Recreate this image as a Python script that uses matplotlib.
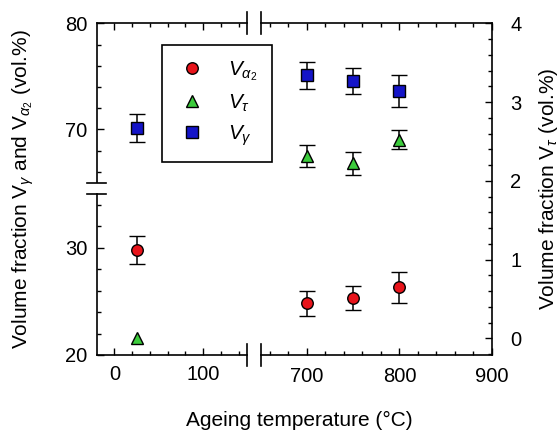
import matplotlib
matplotlib.use("Agg")
import matplotlib.pyplot as plt
from matplotlib.lines import Line2D
from matplotlib.ticker import MultipleLocator, FixedLocator

# ---- data ----
temps = [25, 700, 750, 800]
v_alpha2 = [29.8, 24.8, 25.3, 26.3]
v_alpha2_err = [1.3, 1.2, 1.1, 1.45]
v_gamma = [70.15, 75.1, 74.55, 73.65]
v_gamma_err = [1.3, 1.3, 1.2, 1.5]
v_tau = [0.0, 2.32, 2.22, 2.52]
v_tau_err = [0.0, 0.14, 0.15, 0.12]

xlim_left = (-19.5, 149.5)
xlim_right = (650, 900)
ylim_low = (20, 35)
ylim_up = (65, 80)
ylim_tau = (-0.212, 4.0)
xticks_left = [0, 100]
xticks_right = [700, 800, 900]
yticks_low = [20, 30]
yticks_up = [70, 80]
yticks_tau = [0, 1, 2, 3, 4]

plt.rcParams['font.family'] = ['Liberation Sans', 'DejaVu Sans']
plt.rcParams['mathtext.fontset'] = 'custom'
plt.rcParams['mathtext.rm'] = 'Liberation Sans'
plt.rcParams['mathtext.it'] = 'Liberation Sans:italic'
plt.rcParams['mathtext.bf'] = 'Liberation Sans:bold'

W, H = 558, 432
fig = plt.figure(figsize=(W / 100, H / 100), dpi=100)

def rect(x0, y0, x1, y1):
    return [x0 / W, 1 - y1 / H, (x1 - x0) / W, (y1 - y0) / H]

XL0, XL1, XR0, XR1 = 97, 247.3, 260.7, 492
YT, YB1, YT2, YB = 23.3, 182.5, 194, 355

ax_ul = fig.add_axes(rect(XL0, YT, XL1, YB1))
ax_ll = fig.add_axes(rect(XL0, YT2, XL1, YB))
ax_ur = fig.add_axes(rect(XR0, YT, XR1, YB1))
ax_lr = fig.add_axes(rect(XR0, YT2, XR1, YB))
ax_tl = fig.add_axes(rect(XL0, YT, XL1, YB))
ax_tr = fig.add_axes(rect(XR0, YT, XR1, YB))

LW = 1.2
red, green, blue = '#e8141b', '#3ccc3c', '#1414c8'
ms = 8.3
mew = 1.0
tickfs = 14.5

for ax in (ax_ul, ax_ll, ax_ur, ax_lr, ax_tl, ax_tr):
    for s in ax.spines.values():
        s.set_visible(False)
        s.set_linewidth(LW)
    ax.patch.set_alpha(0)
    ax.tick_params(which='both', direction='in', width=1.0,
                   labelsize=tickfs, left=False, right=False, top=False,
                   bottom=False, labelleft=False, labelbottom=False)
    ax.tick_params(which='major', length=5)
    ax.tick_params(which='minor', length=3)

for ax in (ax_ul, ax_ll, ax_tl):
    ax.set_xlim(*xlim_left)
for ax in (ax_ur, ax_lr, ax_tr):
    ax.set_xlim(*xlim_right)
for ax in (ax_ul, ax_ur):
    ax.set_ylim(*ylim_up)
for ax in (ax_ll, ax_lr):
    ax.set_ylim(*ylim_low)
for ax in (ax_tl, ax_tr):
    ax.set_ylim(*ylim_tau)

# x ticks
for ax, ticks in ((ax_ul, xticks_left), (ax_ll, xticks_left),
                  (ax_ur, xticks_right), (ax_lr, xticks_right)):
    ax.xaxis.set_major_locator(FixedLocator(ticks))
    ax.xaxis.set_minor_locator(MultipleLocator(20))
for ax in (ax_ul, ax_ur):
    ax.spines['top'].set_visible(True)
    ax.tick_params(which='both', top=True)
for ax in (ax_ll, ax_lr):
    ax.spines['bottom'].set_visible(True)
    ax.tick_params(which='both', bottom=True, labelbottom=True, pad=9)

# left y ticks
ax_ul.yaxis.set_major_locator(FixedLocator(yticks_up))
ax_ll.yaxis.set_major_locator(FixedLocator(yticks_low))
for ax in (ax_ul, ax_ll):
    ax.yaxis.set_minor_locator(MultipleLocator(2))
    ax.spines['left'].set_visible(True)
    ax.tick_params(which='both', left=True, labelleft=True, pad=7)
for ax in (ax_ur, ax_lr, ax_tl):
    ax.set_yticks([])

# right tau axis
ax_tr.spines['right'].set_visible(True)
ax_tr.yaxis.set_major_locator(FixedLocator(yticks_tau))
ax_tr.yaxis.set_minor_locator(MultipleLocator(0.2))
ax_tr.yaxis.set_ticks_position('right')
ax_tr.tick_params(which='both', right=True, labelright=True, pad=13)
ax_tl.set_xticks([])
ax_tr.set_xticks([])

ekw = dict(ecolor='black', elinewidth=1.1, capsize=6, capthick=1.1,
           markeredgecolor='black', markeredgewidth=mew, ms=ms, ls='none',
           clip_on=False, zorder=5)

# left column (25 C) points
ax_ll.errorbar(temps[:1], v_alpha2[:1], yerr=v_alpha2_err[:1], fmt='o',
               markerfacecolor=red, **ekw)
ax_ul.errorbar(temps[:1], v_gamma[:1], yerr=v_gamma_err[:1], fmt='s',
               markerfacecolor=blue, **ekw)
ax_tl.plot(temps[:1], v_tau[:1], '^', ms=ms, markerfacecolor=green,
           markeredgecolor='black', markeredgewidth=mew, clip_on=False, zorder=5)
# right column points
ax_lr.errorbar(temps[1:], v_alpha2[1:], yerr=v_alpha2_err[1:], fmt='o',
               markerfacecolor=red, **ekw)
ax_ur.errorbar(temps[1:], v_gamma[1:], yerr=v_gamma_err[1:], fmt='s',
               markerfacecolor=blue, **ekw)
ax_tr.errorbar(temps[1:], v_tau[1:], yerr=v_tau_err[1:], fmt='^',
               markerfacecolor=green, **ekw)

# break marks
def seg(x0, y0, x1, y1):
    fig.add_artist(Line2D([x0 / W, x1 / W], [1 - y0 / H, 1 - y1 / H],
                          transform=fig.transFigure, color='black', lw=LW))

for xb in (XL1, XR0):
    seg(xb, YB - 11, xb, YB + 11)
    seg(xb, YT - 11, xb, YT + 11)
for yb in (YB1, YT2):
    seg(XL0 - 10, yb, XL0 + 9, yb)

# legend
handles = [
    Line2D([], [], ls='none', marker='o', ms=ms, markerfacecolor=red,
           markeredgecolor='black', markeredgewidth=mew),
    Line2D([], [], ls='none', marker='^', ms=ms, markerfacecolor=green,
           markeredgecolor='black', markeredgewidth=mew),
    Line2D([], [], ls='none', marker='s', ms=ms, markerfacecolor=blue,
           markeredgecolor='black', markeredgewidth=mew),
]
labels = [r'$V_{\alpha_2}$', r'$V_\tau$', r'$V_\gamma$']
leg = fig.legend(handles, labels, loc='upper left',
                 bbox_to_anchor=(161.7 / W, 1 - 45 / H), fontsize=15,
                 frameon=True, fancybox=False, framealpha=1,
                 edgecolor='black', borderpad=0.7, labelspacing=0.45,
                 handletextpad=1.0, handlelength=1.5, borderaxespad=0)
leg.get_frame().set_linewidth(LW)
leg.set_zorder(10)

# axis labels
fig.text(299 / W, 1 - 420 / H, 'Ageing temperature (°C)', fontsize=15,
         ha='center', va='center')
fig.text(23 / W, 1 - 189 / H,
         r'Volume fraction V$_\gamma$ and V$_{\alpha_2}$ (vol.%)',
         fontsize=15, rotation=90, ha='center', va='center')
fig.text(548 / W, 1 - 189 / H, r'Volume fraction V$_\tau$ (vol.%)',
         fontsize=15, rotation=90, ha='center', va='center')

fig.savefig('out.png', dpi=100)
